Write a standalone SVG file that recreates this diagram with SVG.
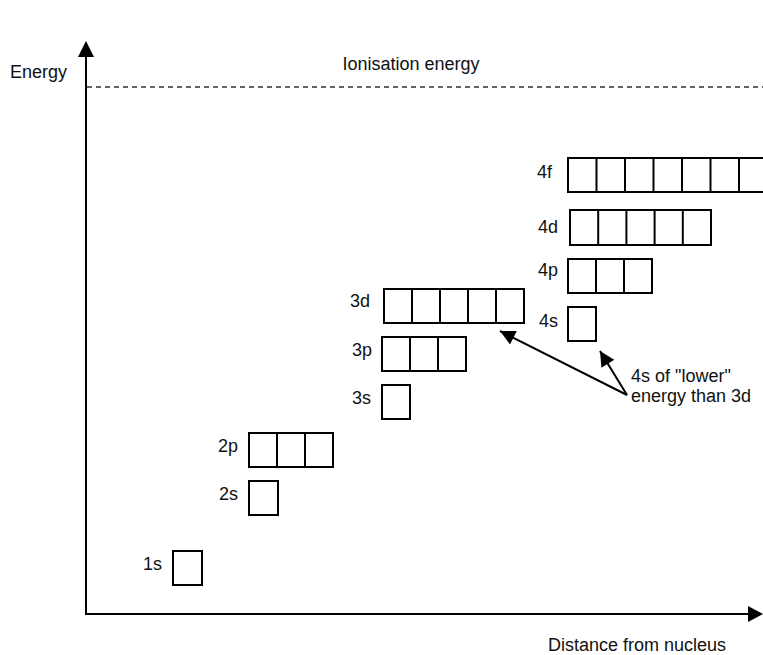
<svg xmlns="http://www.w3.org/2000/svg" width="763" height="655" viewBox="0 0 763 655">
<style>
.t{font-family:"Liberation Sans",Arial,sans-serif;font-size:18px;fill:#111}
.lbl{text-anchor:end}
.box{fill:#fff;stroke:#000;stroke-width:2}
.div{stroke:#000;stroke-width:2}
.ax{stroke:#000;stroke-width:2;fill:none}
.con{stroke:#000;stroke-width:2;fill:none}
</style>
<defs>
<marker id="ah2" viewBox="0 0 10 10" refX="10" refY="5" markerWidth="20" markerHeight="15" markerUnits="userSpaceOnUse" orient="auto">
<path d="M0,0 L10,5 L0,10 Z" fill="#000"/>
</marker>
</defs>

<g id="axes">
<line class="ax" x1="86" y1="614" x2="86" y2="56"/>
<path d="M78,57 L86,41 L94,57 Z" fill="#000"/>
<line class="ax" x1="85" y1="614" x2="749" y2="614"/>
<path d="M748,606 L763,614 L748,622 Z" fill="#000"/>
<text class="t" x="10" y="78">Energy</text>
<text class="t" x="548" y="651">Distance from nucleus</text>
</g>

<g id="ionisation">
<line x1="87" y1="87" x2="763" y2="87" stroke="#333" stroke-width="1.3" stroke-dasharray="5 4"/>
<text class="t" x="411" y="70" text-anchor="middle">Ionisation energy</text>
</g>

<g id="o1s">
<rect class="box" x="173" y="551" width="29" height="34"/>
<text class="t lbl" x="162" y="570">1s</text>
</g>

<g id="o2s">
<rect class="box" x="249" y="481" width="29" height="34"/>
<text class="t lbl" x="238" y="500">2s</text>
</g>

<g id="o2p">
<rect class="box" x="249" y="433" width="84" height="34"/>
<line class="div" x1="277" y1="433" x2="277" y2="467"/>
<line class="div" x1="305" y1="433" x2="305" y2="467"/>
<text class="t lbl" x="238" y="452">2p</text>
</g>

<g id="o3s">
<rect class="box" x="382" y="385" width="28" height="34"/>
<text class="t lbl" x="371" y="404">3s</text>
</g>

<g id="o3p">
<rect class="box" x="382" y="337" width="84" height="34"/>
<line class="div" x1="410" y1="337" x2="410" y2="371"/>
<line class="div" x1="438" y1="337" x2="438" y2="371"/>
<text class="t lbl" x="372" y="356">3p</text>
</g>

<g id="o3d">
<rect class="box" x="384" y="289" width="140" height="34"/>
<line class="div" x1="412" y1="289" x2="412" y2="323"/>
<line class="div" x1="440" y1="289" x2="440" y2="323"/>
<line class="div" x1="468" y1="289" x2="468" y2="323"/>
<line class="div" x1="496" y1="289" x2="496" y2="323"/>
<text class="t lbl" x="370" y="307">3d</text>
</g>

<g id="o4s">
<rect class="box" x="568" y="307" width="28" height="34"/>
<text class="t lbl" x="558" y="327">4s</text>
</g>

<g id="o4p">
<rect class="box" x="568" y="259" width="84" height="34"/>
<line class="div" x1="596" y1="259" x2="596" y2="293"/>
<line class="div" x1="624" y1="259" x2="624" y2="293"/>
<text class="t lbl" x="558" y="276">4p</text>
</g>

<g id="o4d">
<rect class="box" x="570" y="210" width="141" height="35"/>
<line class="div" x1="598.2" y1="210" x2="598.2" y2="245"/>
<line class="div" x1="626.4" y1="210" x2="626.4" y2="245"/>
<line class="div" x1="654.6" y1="210" x2="654.6" y2="245"/>
<line class="div" x1="682.8" y1="210" x2="682.8" y2="245"/>
<text class="t lbl" x="558" y="233">4d</text>
</g>

<g id="o4f">
<rect class="box" x="568" y="158" width="199.5" height="34"/>
<line class="div" x1="596.5" y1="158" x2="596.5" y2="192"/>
<line class="div" x1="625" y1="158" x2="625" y2="192"/>
<line class="div" x1="653.5" y1="158" x2="653.5" y2="192"/>
<line class="div" x1="682" y1="158" x2="682" y2="192"/>
<line class="div" x1="710.5" y1="158" x2="710.5" y2="192"/>
<line class="div" x1="739" y1="158" x2="739" y2="192"/>
<text class="t lbl" x="552" y="178">4f</text>
</g>

<g id="note">
<text class="t" x="631" y="382">4s of "lower"</text>
<text class="t" x="631" y="402">energy than 3d</text>
</g>

<g id="connectors">
<line class="con" x1="627" y1="395" x2="500" y2="331" marker-end="url(#ah2)"/>
<line class="con" x1="627" y1="395" x2="600" y2="351" marker-end="url(#ah2)"/>
</g>
</svg>
